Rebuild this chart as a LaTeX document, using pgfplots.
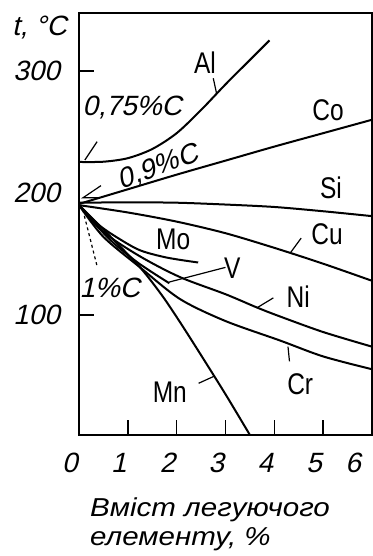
\documentclass[border=0pt]{standalone}
\usepackage{fontspec}
\setmainfont{Liberation Sans}
\newfontfamily\gost[FakeStretch=0.82]{Liberation Sans}
\newfontfamily\gostit[FakeSlant=0.22]{Liberation Sans}
\newfontfamily\captionfont[FakeStretch=1.14]{Liberation Sans}
\usepackage{pgfplots}
\pgfplotsset{compat=1.18}

\tikzset{
  curvelab/.style={font=\gost\fontsize{30}{30}\selectfont, inner sep=0pt},
  clab/.style={font=\gostit\fontsize{28}{28}\selectfont, inner sep=0pt},
  leader/.style={line width=1.2bp},
}

\begin{document}
\begin{tikzpicture}
\begin{axis}[
  scale only axis, width=293bp, height=422bp,
  xmin=0, xmax=6, ymin=1.6, ymax=347.5,
  clip=false,
  axis line style={line width=2bp},
  xtick={0,...,6}, ytick={100,300},
  xticklabels={0,1,2,3,4,5,\makebox[0pt][r]{6\hspace*{2bp}}},
  extra y ticks={200},
  extra y tick style={major tick length=0pt},
  tick style={line width=1.4bp, black},
  major tick length=15bp,
  tick align=inside,
  xtick pos=bottom, ytick pos=left,
  /pgf/number format/assume math mode=true,
  xticklabel style={font=\gostit\fontsize{28}{28}\selectfont, inner sep=0pt, yshift=-18bp, xshift=-9bp},
  yticklabel style={font=\gostit\fontsize{28}{28}\selectfont, inner sep=0pt, xshift=-19bp},
  every axis plot/.append style={line width=2bp, black, no marks},
]
\coordinate (ll) at (rel axis cs:0,0);

% Al (0.75 % C)
\addplot[smooth] coordinates {(0,225.4) (0.5,225.6) (1,228.5) (1.5,236) (2,249) (2.5,268) (3,289) (3.5,309) (3.9,325)};
% Co (0.9 % C)
\addplot[smooth] coordinates {(0,191) (1,203) (2,215) (3,226.5) (4,238) (5,249) (6,260)};
% Si
\addplot[smooth] coordinates {(0,192) (1,192.3) (2,192) (3,190.5) (4,188.5) (5,185) (6,181)};
% Cu
\addplot[smooth] coordinates {(0,190) (1,184) (2,176.5) (3,167) (4,155) (5,142) (6,128)};
% Mo
\addplot[smooth] coordinates {(0,190) (0.4,174) (0.8,163) (1.25,153) (1.8,147) (2.44,143)};
% V
\addplot[smooth] coordinates {(0,190) (0.6,163) (1.2,143) (1.85,126)};
% Ni
\addplot[smooth] coordinates {(0,190) (0.5,168) (1.25,148) (2.07,131) (3,117) (3.65,106) (4.1,99) (5,86) (6,74)};
% Cr
\addplot[smooth] coordinates {(0,190) (0.5,164) (1.25,139) (2.07,113) (3,95) (4.12,79) (5,66) (6,55.5)};
% Mn
\addplot[smooth] coordinates {(0,190) (0.6,166) (1.25,139) (1.7,116) (2.07,94) (2.5,67) (3,35) (3.5,1.6)};

% curve labels and leaders
\node[curvelab] at (axis cs:2.58,307) {Al};
\draw[leader] (axis cs:2.75,294) -- (axis cs:2.82,281);
\node[curvelab] at (axis cs:5.1,268) {Co};
\node[curvelab] at (axis cs:5.16,204) {Si};
\node[curvelab] at (axis cs:5.08,166) {Cu};
\draw[leader] (axis cs:4.55,163) -- (axis cs:4.33,151);
\node[curvelab] at (axis cs:1.93,162) {Mo};
\node[curvelab] at (axis cs:3.14,138) {V};
\draw[leader] (axis cs:3.0,139) -- (axis cs:1.85,127);
\node[curvelab] at (axis cs:4.49,115) {Ni};
\draw[leader] (axis cs:3.98,114) -- (axis cs:3.65,106);
\node[curvelab] at (axis cs:4.53,43) {Cr};
\draw[leader] (axis cs:4.31,62) -- (axis cs:4.28,74);
\node[curvelab] at (axis cs:1.86,37) {Mn};
\draw[leader] (axis cs:2.45,44) -- (axis cs:2.78,50);

\node[clab] at (axis cs:1.09,270) {0,75\%C};
\draw[leader] (axis cs:0.37,242) -- (axis cs:0.12,227);
\node[clab, rotate=20] at (axis cs:1.62,221) {0,9\%C};
\draw[leader] (axis cs:0.45,206) -- (axis cs:0.08,196) -- (axis cs:0.42,196);
\node[clab] at (axis cs:0.63,122) {1\%C};
\draw[leader, dashed] (axis cs:0.08,186) -- (axis cs:0.37,140);
\end{axis}

\node[anchor=base west, font=\gostit\fontsize{28}{28}\selectfont, inner sep=0pt]
  at ([xshift=-67bp, yshift=399bp]ll) {t, °C};
\node[anchor=north west, align=left, inner sep=0pt,
      font=\captionfont\itshape\fontsize{26}{29}\selectfont]
  at ([xshift=11bp, yshift=-63bp]ll) {Вміст легуючого\\елементу, \%};

\pgfresetboundingbox
\path (ll) ++(-79bp,-121bp) rectangle ++(373bp,556bp);
\end{tikzpicture}
\end{document}
